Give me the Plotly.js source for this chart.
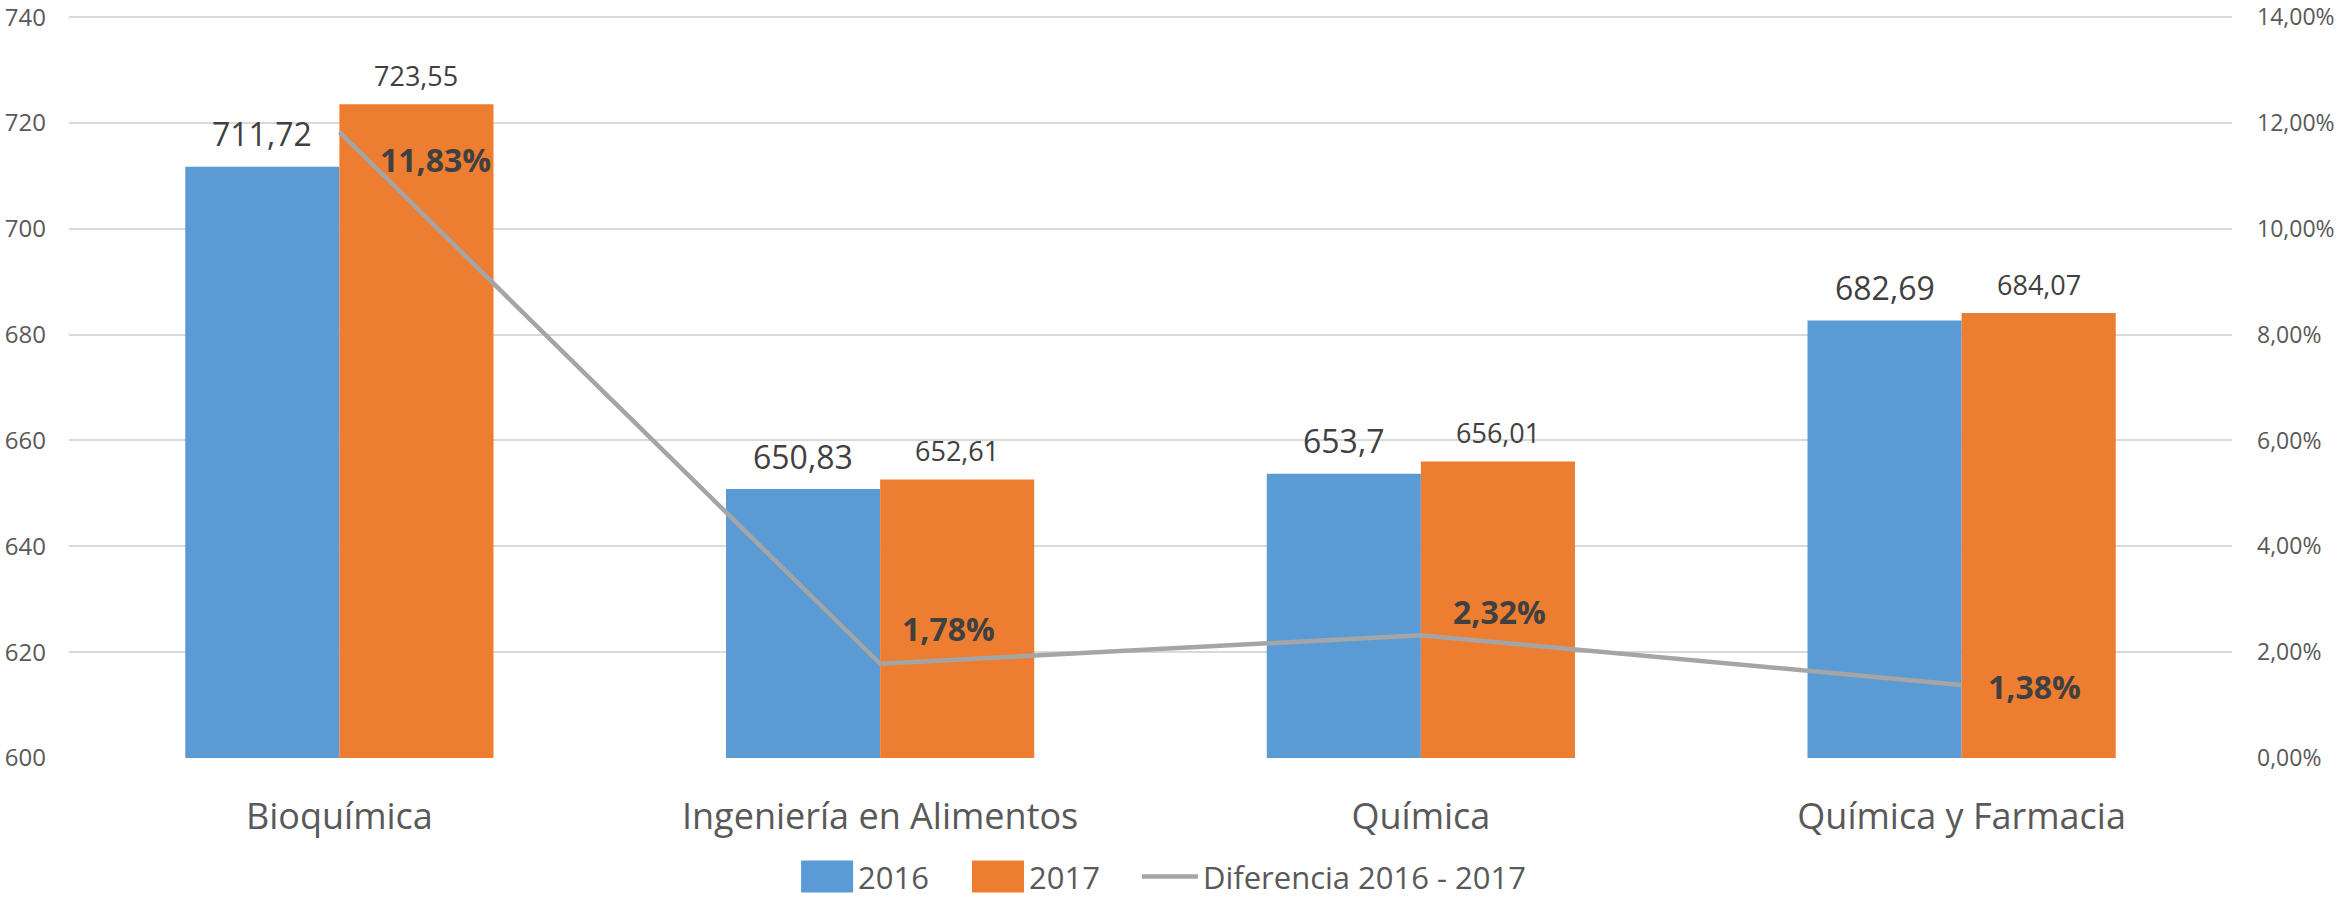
<!DOCTYPE html>
<html>
<head>
<meta charset="utf-8">
<script src="https://cdn.plot.ly/plotly-3.0.1.min.js"></script>
<style>html,body{margin:0;padding:0;background:#fff;}#chart{width:2338px;height:901px;}</style>
</head>
<body>
<div id="chart"></div>
<script>
const categories = ["Bioquímica", "Ingeniería en Alimentos", "Química", "Química y Farmacia"];
const values2016 = [711.72, 650.83, 653.7, 682.69];
const values2017 = [723.55, 652.61, 656.01, 684.07];
const diferencia = [0.1183, 0.0178, 0.0232, 0.0138];
const seriesNames = ["2016", "2017", "Diferencia 2016 - 2017"];

const fmt = v => String(v).replace('.', ',');
const fmtPct = v => (v * 100).toFixed(2).replace('.', ',') + '%';
const FONT = "Open Sans, Noto Sans, sans-serif";

const W = 2338, H = 901;
const M = {l: 69, r: 106, t: 15, b: 143, autoexpand: false};
const BARGAP = 0.43;
const plotW = W - M.l - M.r;
const barShift = (plotW / categories.length) * (1 - BARGAP) / 4;

// label placement styles (pixel offsets from each point)
const lineLabelShift = [[39, -28], [20, 35], [30, 24], [24, -2]];

const traces = [
  {
    type: 'bar', name: seriesNames[0], x: categories, y: values2016,
    marker: {color: '#5B9BD5'}, hoverinfo: 'none'
  },
  {
    type: 'bar', name: seriesNames[1], x: categories, y: values2017,
    marker: {color: '#ED7D31'}, hoverinfo: 'none'
  },
  {
    type: 'scatter', mode: 'lines', name: seriesNames[2], x: categories, y: diferencia,
    yaxis: 'y2', line: {color: '#A5A5A5', width: 4.5}, hoverinfo: 'none'
  }
];

const annotations = [];
categories.forEach((c, i) => {
  annotations.push({
    x: c, y: values2016[i], xref: 'x', yref: 'y', text: fmt(values2016[i]),
    showarrow: false, xshift: -barShift, yshift: 33, xanchor: 'center', yanchor: 'middle',
    font: {size: 32, color: '#404040', family: FONT}
  });
  annotations.push({
    x: c, y: values2017[i], xref: 'x', yref: 'y', text: fmt(values2017[i]),
    showarrow: false, xshift: barShift, yshift: 29, xanchor: 'center', yanchor: 'middle',
    font: {size: 27, color: '#404040', family: FONT}
  });
  annotations.push({
    x: c, y: diferencia[i], xref: 'x', yref: 'y2', text: '<b>' + fmtPct(diferencia[i]) + '</b>',
    showarrow: false, xshift: lineLabelShift[i][0], yshift: lineLabelShift[i][1],
    xanchor: 'left', yanchor: 'middle',
    font: {size: 32, color: '#404040', family: FONT}
  });
});

const layout = {
  width: W, height: H,
  margin: M,
  paper_bgcolor: '#fff', plot_bgcolor: '#fff',
  separators: ',.',
  font: {family: FONT, color: '#595959'},
  barmode: 'group', bargap: BARGAP, bargroupgap: 0,
  showlegend: true,
  legend: {
    orientation: 'h', x: 0.3343, xanchor: 'left', y: -0.160, yanchor: 'middle',
    bgcolor: 'rgba(0,0,0,0)',
    font: {size: 31, color: '#595959', family: FONT}, traceorder: 'normal',
    itemwidth: 56
  },
  annotations: annotations,
  xaxis: {
    type: 'category', showgrid: false, zeroline: false, showline: false, automargin: false,
    ticks: '', tickfont: {size: 36, color: '#595959', family: FONT},
    ticklabelstandoff: 34
  },
  yaxis: {
    range: [600, 740.4], dtick: 20, tick0: 600, automargin: false,
    showgrid: true, gridcolor: '#D9D9D9', gridwidth: 2,
    zeroline: false, showline: false, ticks: '', ticklabeloverflow: 'allow',
    tickfont: {size: 24, color: '#595959', family: FONT},
    ticklabelstandoff: 22
  },
  yaxis2: {
    overlaying: 'y', side: 'right', range: [0, 0.14 * 140.4 / 140], dtick: 0.02, tick0: 0,
    automargin: false, ticklabeloverflow: 'allow',
    tickformat: '.2%', showgrid: false, zeroline: false, showline: false, ticks: '',
    tickfont: {size: 23, color: '#595959', family: FONT},
    ticklabelstandoff: 24
  }
};

Plotly.newPlot('chart', traces, layout, {displayModeBar: false, staticPlot: true}).then(gd => {
  const sb = gd.querySelector('.legend .scrollbox');
  if (sb) sb.removeAttribute('clip-path');
  const items = Array.from(gd.querySelectorAll('.legend .traces'));
  let prevEnd = null;
  items.forEach((g, i) => {
    const symStart = i < 2 ? 9 : 6;
    g.querySelectorAll('.legendpoints path').forEach(p => {
      if (i < 2) {
        p.removeAttribute('transform');
        p.setAttribute('d', 'M9,-16H61V16H9Z');
      } else {
        p.setAttribute('d', 'M6,0H61');
        p.style.strokeWidth = '5px';
      }
    });
    const tr = g.getAttribute('transform') || '';
    const m = /translate\(\s*([-\d.eE]+)[\s,]+([-\d.eE]+)\s*\)/.exec(tr);
    let x = m ? +m[1] : 0, y = m ? +m[2] : 0;
    if (i > 0 && prevEnd !== null) {
      x = prevEnd + 43 - symStart;
      g.setAttribute('transform', 'translate(' + x + ',' + y + ')');
    }
    const t = g.querySelector('text.legendtext');
    if (t) {
      const bb = t.getBBox();
      prevEnd = x + bb.x + bb.width;
    }
  });
});
</script>
</body>
</html>
